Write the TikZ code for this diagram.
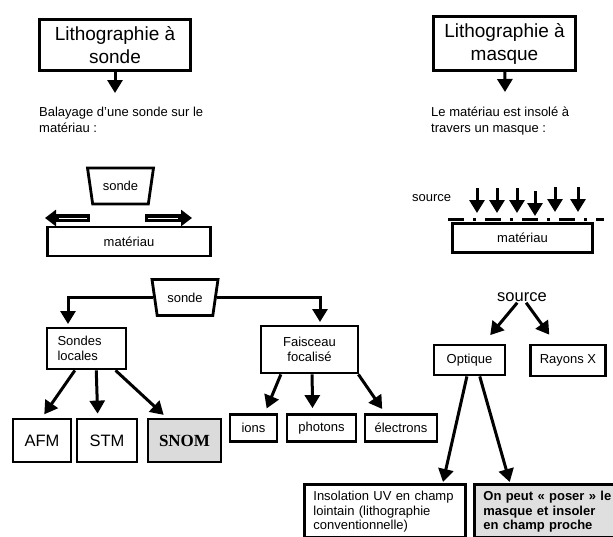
\documentclass[tikz,border=0pt]{standalone}
\usepackage{fontspec}
\setmainfont{Liberation Sans}
\newfontfamily\serifbold{Liberation Serif}
\usetikzlibrary{arrows.meta,shapes.geometric}

\begin{document}
\begin{tikzpicture}[
    x=1pt, y=-1pt,
    box/.style={rectangle, draw, line width=2.8pt, align=center, inner sep=2pt, font=\fontsize{13}{15}\selectfont},
    titlebox/.style={box, line width=3.2pt, font=\fontsize{19}{23}\selectfont},
    bigbox/.style={box, minimum width=58pt, minimum height=43pt, font=\fontsize{16.5}{19}\selectfont},
    smallbox/.style={box, minimum height=27pt},
    textbox/.style={box, anchor=north west, align=left, inner xsep=9pt, inner ysep=7pt, text depth=30pt},
    probe/.style={trapezium, draw, line width=2.8pt, trapezium angle=109, trapezium stretches=true, minimum width=66pt, minimum height=36pt, inner sep=0pt, font=\fontsize{13}{15}\selectfont},
    note/.style={anchor=west, align=left, inner sep=0pt, font=\fontsize{13}{16}\selectfont},
    arrow/.style={-{Triangle[length=13pt,width=15pt]}, line width=3pt},
    hollow/.style={-{Triangle[length=11pt,width=16pt]}, line width=8pt, postaction={draw=white, line width=1pt, arrows=-, shorten <=3pt, shorten >=14pt}}
]
    \useasboundingbox (0,0) rectangle (613,536);
    \clip (0,0) rectangle (613,536);

    % Lithographie a sonde (left side)
    \node[titlebox, minimum width=151pt, minimum height=51pt] (title1) at (115,45) {Lithographie à\\sonde};
    \coordinate (t1tip) at (115,93);
    \draw[arrow] (title1) -- (t1tip);
    \node[note] (bal) at (39,120) {Balayage d’une sonde sur le\\matériau :};

    \node[probe] (sonde1) at (120.5,186) {sonde};
    \coordinate (hl0) at (90,218);
    \coordinate (hl1) at (45,218);
    \coordinate (hr0) at (145,218);
    \coordinate (hr1) at (192,218);
    \draw[hollow] (hl0) -- (hl1);
    \draw[hollow] (hr0) -- (hr1);
    \node[box, minimum width=163pt, minimum height=29pt] (mat1) at (129,241.5) {matériau};

    \node[probe] (sonde2) at (185,297.5) {sonde};
    \coordinate (lfoot) at (68,324);
    \coordinate (rfoot) at (320,322);
    \draw[arrow] (sonde2.west) -| (lfoot);
    \draw[arrow] (sonde2.east) -| (rfoot);

    \node[box, minimum width=79pt, minimum height=41pt, text width=58pt, align=left] (locales) at (86.5,348.5) {Sondes\\locales};
    \node[box, minimum width=97pt, minimum height=47pt] (faisceau) at (309.5,349.5) {Faisceau\\focalisé};

    \node[bigbox] (afm) at (42,440.5) {AFM};
    \node[bigbox, minimum width=60pt] (stm) at (107,440.5) {STM};
    \node[bigbox, minimum width=73pt, fill=gray!28, font=\serifbold\bfseries\fontsize{17}{19}\selectfont] (snom) at (184.5,440.5) {SNOM};
    \draw[arrow, shorten >=4pt] (locales.242) -- (afm.north);
    \draw[arrow, shorten >=4pt] (locales.294) -- (stm.112);
    \draw[arrow, shorten >=4pt] (locales.323) -- (snom.128);

    \node[smallbox, minimum width=47pt] (ions) at (253.5,428) {ions};
    \node[smallbox, minimum width=69pt] (photons) at (321.5,428) {photons};
    \node[smallbox, minimum width=72pt] (electrons) at (401,428) {électrons};
    \draw[arrow, shorten >=5pt] (faisceau.221) -- (ions.53);
    \draw[arrow, shorten >=5pt] (faisceau.276) -- (photons.121);
    \draw[arrow, shorten >=5pt] (faisceau.333) -- (electrons.137);

    % Lithographie a masque (right side)
    \node[titlebox, minimum width=142pt, minimum height=54pt] (title2) at (504.5,43.5) {Lithographie à\\masque};
    \coordinate (t2tip) at (505,92);
    \draw[arrow] (title2) -- (t2tip);
    \node[note] (insole) at (431,121) {Le matériau est insolé à\\travers un masque :};

    \node[note] (src1) at (412,198) {source};
    \foreach \x/\y in {477/188, 497/188, 517/188, 535/191, 555/187, 578/187}
        \draw[arrow] (\x,\y) -- (\x,\y+25);
    \draw[line width=3pt, dash pattern=on 16pt off 9pt on 3pt off 9pt] (448,219.5) -- (604,219.5);
    \node[box, minimum width=140pt, minimum height=29pt] (mat2) at (522.5,238) {matériau};

    \node[inner sep=1pt, font=\fontsize{16.5}{19}\selectfont] (src2) at (522,297) {source};
    \node[box, minimum width=71pt, minimum height=30pt] (optique) at (469.5,360) {Optique};
    \node[box, minimum width=75pt, minimum height=31pt] (rayons) at (568,360.5) {Rayons X};
    \draw[arrow, shorten >=11pt] (src2) -- (optique);
    \draw[arrow, shorten >=11pt] (src2) -- (rayons);

    \node[textbox, text width=143pt, font=\fontsize{13}{14.5}\selectfont] (insol) at (303,483) {Insolation UV en champ\\lointain (lithographie\\conventionnelle)};
    \node[textbox, text width=140pt, fill=gray!25, font=\bfseries\fontsize{13}{14.5}\selectfont] (proche) at (473,483) {On peut « poser » le\\masque et insoler\\en champ proche};
    \draw[arrow, shorten >=1pt] (optique.261) -- ([xshift=-24pt]insol.north east);
    \draw[arrow, shorten >=1pt] (optique.302) -- ([xshift=37pt]proche.north west);
\end{tikzpicture}
\end{document}
